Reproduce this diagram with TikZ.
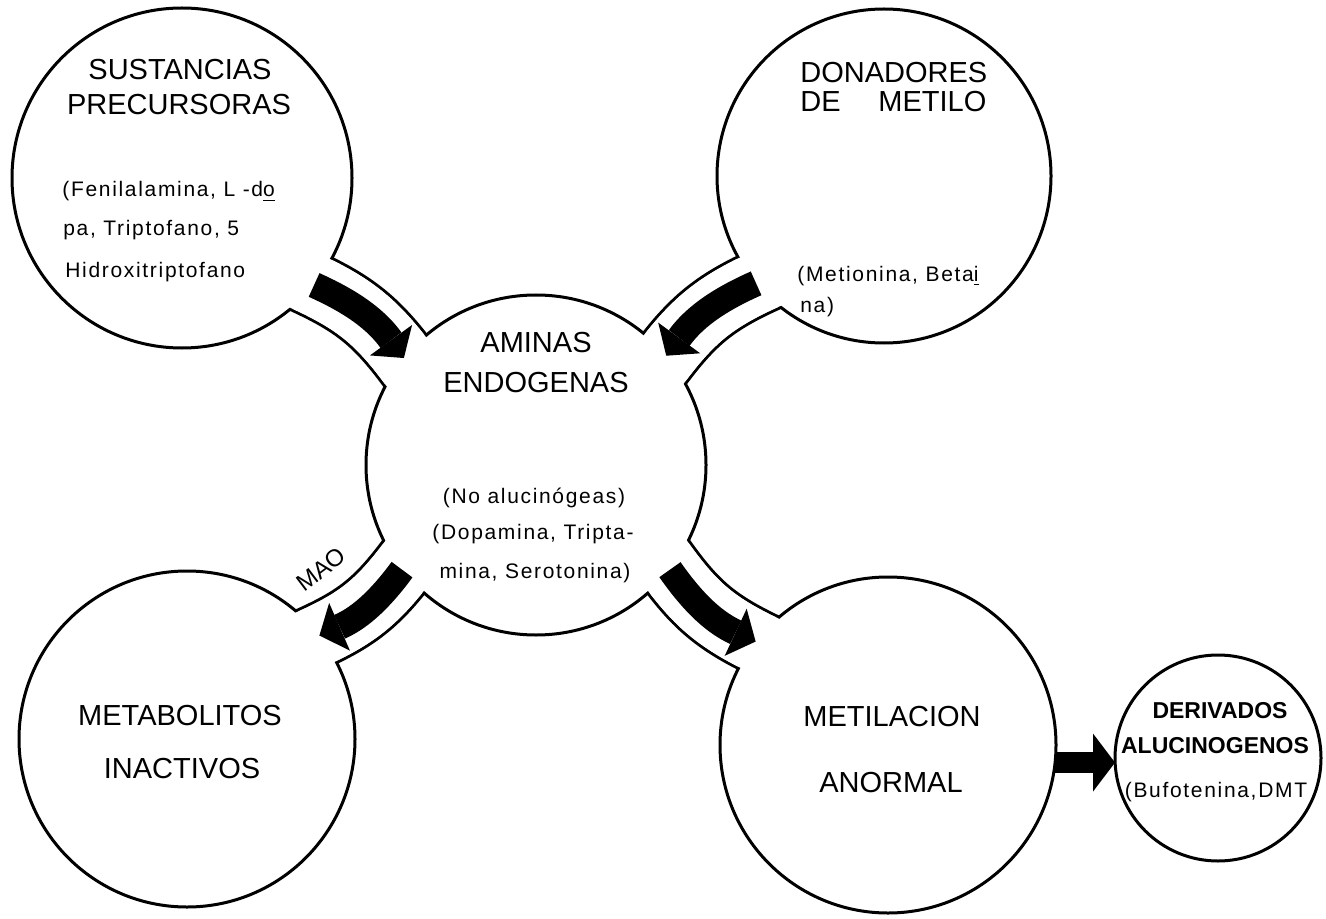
\documentclass[tikz,border=0pt]{standalone}
\usepackage{fontspec}
\setmainfont{Liberation Sans}
\newfontfamily\typed[LetterSpace=8]{Liberation Sans}
\usetikzlibrary{arrows.meta,positioning,backgrounds}

\tikzset{
  blob/.style={circle, draw=black, fill=white, line width=1.5pt, inner sep=0pt, outer sep=0pt},
  channel/.style={draw=black, line width=1.5pt, double=white, double distance=30.5pt, shorten <=-9pt, shorten >=-9pt},
  gap/.style={draw=white, line width=30.5pt, shorten <=-9pt, shorten >=-9pt},
  flow/.style={draw=black, line width=13pt, -{Triangle[width=26pt,length=11pt,line width=0pt]}},
  caps/.style={inner sep=0pt, font=\fontsize{14.5}{17}\selectfont},
  small/.style={inner sep=0pt, font=\typed\fontsize{10.5}{12}\selectfont},
  boldcaps/.style={inner sep=0pt, font=\bfseries\fontsize{11.5}{14}\selectfont}
}

\begin{document}
\begin{tikzpicture}[x=0.5pt, y=-0.5pt]
    \useasboundingbox (0,0) rectangle (1326,919);
    % the circles
    \node[blob, minimum size=170pt] (A) at (182,178) {};
    \node[blob, minimum size=167pt] (B) at (884,176) {};
    \node[blob, minimum size=170pt] (C) at (536,465) {};
    \node[blob, minimum size=168pt] (D) at (187,739) {};
    \node[blob, minimum size=168pt] (E) at (888,745) {};
    \node[blob, minimum size=103pt] (F) at (1218,758) {};
    % walls of the channels, behind the circles
    \begin{scope}[on background layer]
        \path
        (A.-39)  edge[channel, bend left=15]  (C.141)
        (B.-140) edge[channel, bend right=15] (C.40)
        (C.-142) edge[channel, bend left=15]  (D.38)
        (C.-38)  edge[channel, bend right=15] (E.142);
    \end{scope}
    % open the circles where the channels join them
    \path
    (A.-39)  edge[gap, bend left=15]  (C.141)
    (B.-140) edge[gap, bend right=15] (C.40)
    (C.-142) edge[gap, bend left=15]  (D.38)
    (C.-38)  edge[gap, bend right=15] (E.142);
    % arrows
    \path
    (A.-39)  edge[flow, bend left=15]  (C.141)
    (B.-140) edge[flow, bend right=15] (C.40)
    (C.-142) edge[flow, bend left=15]  (D.38)
    (C.-38)  edge[flow, bend right=15] (E.142);
    \draw[line width=10.5pt, -{Triangle[width=29pt,length=11pt,line width=0pt]}] (E.-6) -- (E.-6 -| F.west);
    \node[font=\fontsize{12}{14}\selectfont, rotate=37, inner sep=0pt] (mao) at (321,569) {MAO};
    % texts
    \node[caps, anchor=base] (A1) at (180,80) {SUSTANCIAS};
    \node[caps, anchor=base] (A2) at (179,115) {PRECURSORAS};
    \node[small, anchor=base west] (A3) at (62,197) {(Fenilalamina, L -d\underline{o}};
    \node[small, anchor=base west] (A4) at (63,236) {pa, Triptofano, 5};
    \node[small, anchor=base west] (A5) at (65,278) {Hidroxitriptofano};
    \node[caps, anchor=base west] (B1) at (800,83) {DONADORES};
    \node[caps, anchor=base west] (B2) at (800,112) {\hbox to 93pt{DE\hfill METILO}};
    \node[small, anchor=base west] (B3) at (797,282) {(Metionina, Beta\underline{i}};
    \node[small, anchor=base west] (B4) at (800,313) {na)};
    \node[caps, anchor=base] (C1) at (536,352) {AMINAS};
    \node[caps, anchor=base] (C2) at (536,392) {ENDOGENAS};
    \node[small, anchor=base] (C3) at (534,503) {(No alucinógeas)};
    \node[small, anchor=base] (C4) at (533,539) {(Dopamina, Tripta-};
    \node[small, anchor=base] (C5) at (535,578) {mina, Serotonina)};
    \node[caps, anchor=base] (D1) at (180,725) {METABOLITOS};
    \node[caps, anchor=base] (D2) at (182,778) {INACTIVOS};
    \node[caps, anchor=base] (E1) at (892,726) {METILACION};
    \node[caps, anchor=base] (E2) at (891,792) {ANORMAL};
    \node[boldcaps, anchor=base] (F1) at (1220,718) {DERIVADOS};
    \node[boldcaps, anchor=base] (F2) at (1215,753) {ALUCINOGENOS};
    \node[small, anchor=base] (F3) at (1216,797) {(Bufotenina,DMT};
\end{tikzpicture}
\end{document}
